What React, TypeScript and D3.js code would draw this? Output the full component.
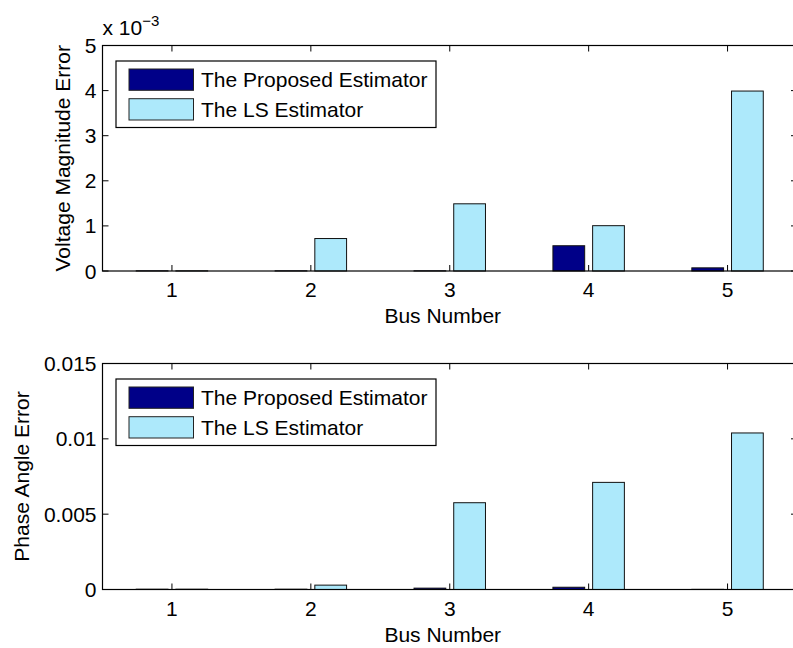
import React from "react";
import * as d3 from "d3";

// bus numbers on the x axis
const buses = [1, 2, 3, 4, 5];
const seriesNames = ["The Proposed Estimator", "The LS Estimator"];
const seriesColors = ["#000088", "#ade9fb"];

// voltage magnitude error (top panel)
const voltageProposed = [0.000004, 0.000004, 0.000004, 0.00056, 0.00007];
const voltageLS = [0.000004, 0.00072, 0.00149, 0.001005, 0.00399];
const voltageTicks = [0, 0.001, 0.002, 0.003, 0.004, 0.005];

// phase angle error (bottom panel)
const angleProposed = [0.00002, 0.00002, 0.00009, 0.00015, 0.00001];
const angleLS = [0.00002, 0.00029, 0.00576, 0.00711, 0.01039];
const angleTicks = [0, 0.005, 0.01, 0.015];

const FONT = "'Liberation Sans', Arial, Helvetica, sans-serif";
const FS = 21;

type PanelProps = {
  top: number;
  bottom: number;
  yMax: number;
  yTicks: number[];
  fmt: (v: number) => string;
  series: number[][];
  yLabel: string;
  yLabelX: number;
  exponent?: boolean;
};

const Panel = ({ top, bottom, yMax, yTicks, fmt, series, yLabel, yLabelX, exponent }: PanelProps) => {
  const x = d3.scaleLinear([0.5, 5.5], [102.5, 797]);
  const y = d3.scaleLinear([0, yMax], [bottom, top]);
  const barW = 0.2286;
  const offsets = [-0.1429, 0.1429];
  const left = x(0.5), right = x(5.5);
  const tk = 6;

  return (
    <g>
      {series.map((vals, s) =>
        vals.map((v, i) => {
          const cx = buses[i] + offsets[s];
          return (
            <rect
              key={`${s}-${i}`}
              x={x(cx - barW / 2)}
              y={y(v)}
              width={x(cx + barW / 2) - x(cx - barW / 2)}
              height={y(0) - y(v)}
              fill={seriesColors[s]}
              stroke="#111"
              strokeWidth={1}
            />
          );
        })
      )}
      {/* box */}
      <rect x={left} y={top} width={right - left} height={bottom - top} fill="none" stroke="#000" strokeWidth={1.2} />
      {/* x ticks */}
      {buses.map(b => (
        <g key={b}>
          <line x1={x(b)} x2={x(b)} y1={bottom} y2={bottom - tk} stroke="#000" />
          <line x1={x(b)} x2={x(b)} y1={top} y2={top + tk} stroke="#000" />
          <text x={x(b)} y={bottom + 26} textAnchor="middle" fontSize={FS} fontFamily={FONT}>{b}</text>
        </g>
      ))}
      {/* y ticks */}
      {yTicks.map(t => (
        <g key={t}>
          <line x1={left} x2={left + tk} y1={y(t)} y2={y(t)} stroke="#000" />
          <line x1={right} x2={right - tk} y1={y(t)} y2={y(t)} stroke="#000" />
          <text x={left - 6} y={y(t) + 7.5} textAnchor="end" fontSize={FS} fontFamily={FONT}>{fmt(t)}</text>
        </g>
      ))}
      {exponent && (
        <text x={left} y={top - 11} fontSize={FS} fontFamily={FONT}>
          x 10<tspan dy={-9} fontSize={15}>−3</tspan>
        </text>
      )}
      <text x={(left + 797) / 2 - 7} y={bottom + 52} textAnchor="middle" fontSize={FS} fontFamily={FONT}>Bus Number</text>
      <text
        transform={`translate(${yLabelX},${(top + bottom) / 2}) rotate(-90)`}
        textAnchor="middle"
        fontSize={FS}
        fontFamily={FONT}
      >
        {yLabel}
      </text>
      {/* legend */}
      <g transform={`translate(116,${top + 15.5})`}>
        <rect x={0} y={0} width={320} height={66.5} fill="#fff" stroke="#000" strokeWidth={1.2} />
        {seriesNames.map((n, i) => (
          <g key={n} transform={`translate(0,${8 + i * 29.7})`}>
            <rect x={13} y={0} width={64.5} height={21.3} fill={seriesColors[i]} stroke="#222" strokeWidth={1} />
            <text x={85} y={18} fontSize={FS} fontFamily={FONT}>{n}</text>
          </g>
        ))}
      </g>
    </g>
  );
};

const App = () => {
  return (
    <svg
      width={793}
      height={648}
      style={{ position: "absolute", left: 0, top: 0, background: "#fff" }}
    >
      <rect width={793} height={648} fill="#fff" />
      <Panel
        top={45.5}
        bottom={271}
        yMax={0.005}
        yTicks={voltageTicks}
        fmt={v => String(Math.round(v * 1000))}
        series={[voltageProposed, voltageLS]}
        yLabel="Voltage Magnitude Error"
        yLabelX={70}
        exponent
      />
      <Panel
        top={363.5}
        bottom={589.5}
        yMax={0.015}
        yTicks={angleTicks}
        fmt={v => (v === 0 ? "0" : String(+v.toFixed(3)))}
        series={[angleProposed, angleLS]}
        yLabel="Phase Angle Error"
        yLabelX={29}
      />
    </svg>
  );
};

export default App;
